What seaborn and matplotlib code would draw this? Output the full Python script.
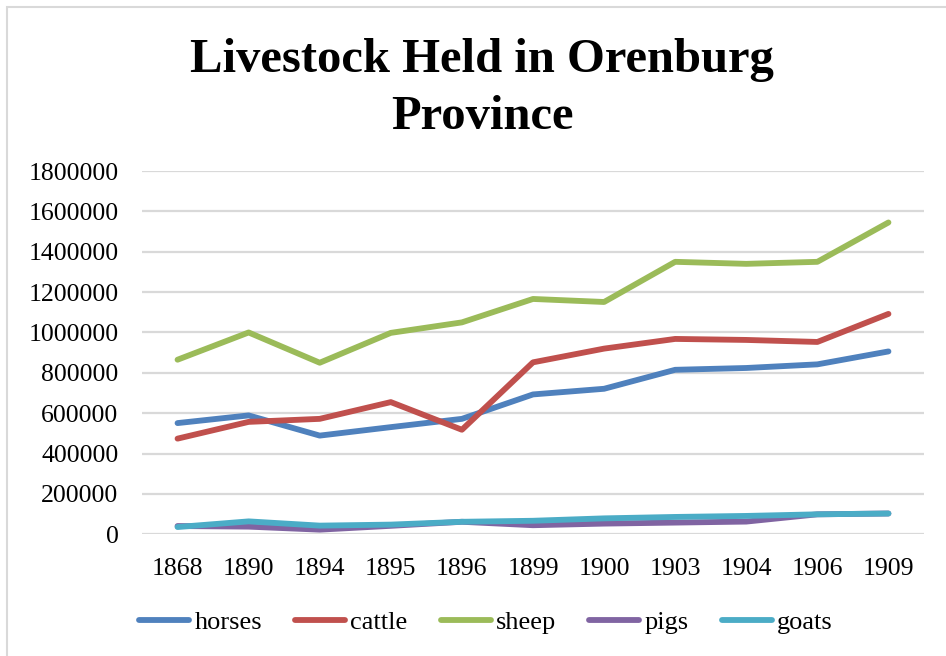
import matplotlib
matplotlib.use("Agg")
import matplotlib.pyplot as plt
import seaborn as sns
import pandas as pd
from matplotlib.patches import Rectangle
from matplotlib.lines import Line2D

years = ["1868", "1890", "1894", "1895", "1896", "1899", "1900", "1903", "1904", "1906", "1909"]
horses = [551000, 589000, 489000, 531000, 572000, 693000, 721000, 815000, 824000, 842000, 906000]
cattle = [474000, 557000, 572000, 655000, 518000, 852000, 920000, 968000, 963000, 953000, 1092000]
sheep = [865000, 1000000, 850000, 998000, 1050000, 1166000, 1151000, 1350000, 1340000, 1350000, 1545000]
pigs = [41000, 38000, 23000, 42000, 62000, 45000, 53000, 58000, 63000, 99000, 103000]
goats = [36000, 64000, 43000, 48000, 62000, 67000, 79000, 86000, 91000, 99000, 103000]

series_names = ["horses", "cattle", "sheep", "pigs", "goats"]
colors = ["#4F81BD", "#C0504D", "#9BBB59", "#8064A2", "#4BACC6"]

df = pd.DataFrame({"year": years, "horses": horses, "cattle": cattle,
                   "sheep": sheep, "pigs": pigs, "goats": goats})
long = df.melt(id_vars="year", var_name="series", value_name="value")
long["x"] = long["year"].map({y: i for i, y in enumerate(years)})

sns.set_theme(style="white")
plt.rcParams["font.family"] = ["Liberation Serif", "DejaVu Serif"]
plt.rcParams["text.color"] = "black"

fig = plt.figure(figsize=(9.46, 6.56), dpi=100)
ax = fig.add_axes([142 / 946, 1 - 534.3 / 656, (924 - 142) / 946, (534.3 - 171) / 656])

sns.lineplot(data=long, x="x", y="value", hue="series", hue_order=series_names,
             palette=colors, linewidth=4.2, ax=ax, legend=False,
             solid_capstyle="round", solid_joinstyle="round")

ax.set_xlim(-0.5, len(years) - 0.5)
ax.set_ylim(0, 1800000)
ax.set_yticks(range(0, 1800001, 200000))
ax.set_yticklabels([str(v) for v in range(0, 1800001, 200000)], fontsize=18.5)
ax.set_xticks(range(len(years)))
ax.set_xticklabels(years, fontsize=18.5)
ax.tick_params(axis="both", length=0, colors="black", labelcolor="black")
ax.tick_params(axis="y", pad=17)
ax.tick_params(axis="x", pad=17)
ax.grid(axis="y", color="#D9D9D9", linewidth=1.6)
ax.grid(axis="x", visible=False)
for s in ax.spines.values():
    s.set_visible(False)
ax.set_xlabel("")
ax.set_ylabel("")

fig.text(482 / 946, 1 - 88.5 / 656, "Livestock Held in Orenburg\nProvince", ha="center", va="center",
         fontsize=35, fontweight="bold", linespacing=1.39, color="black")

handles = [Line2D([0], [0], color=c, linewidth=4.2, solid_capstyle="round") for c in colors]
leg = fig.legend(handles, series_names, loc="center", bbox_to_anchor=(486 / 946, 1 - 622 / 656),
                 ncol=5, frameon=False, fontsize=19, handlelength=1.9, handletextpad=0.2,
                 columnspacing=1.25)
for t in leg.get_texts():
    t.set_color("black")

fig.patches.append(Rectangle((7 / 946, -0.1), 1.2, (1 - 7 / 656) + 0.1, transform=fig.transFigure,
                             fill=False, edgecolor="#D9D9D9", linewidth=1.5))

fig.savefig("out.png", dpi=100, facecolor="white")
